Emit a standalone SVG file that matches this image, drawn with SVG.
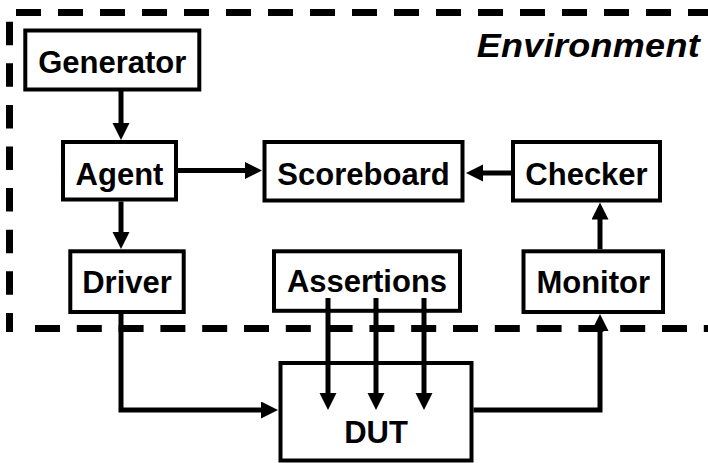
<svg xmlns="http://www.w3.org/2000/svg" width="708" height="463" viewBox="0 0 708 463">
<style>
.box{fill:#fff;stroke:#000;stroke-width:4}
.lbl{font-family:"Liberation Sans",Arial,sans-serif;font-weight:bold;font-size:31px;text-anchor:middle;fill:#000}
.env{fill:none;stroke:#000;stroke-width:7;stroke-linecap:butt}
.con{fill:none;stroke:#000;stroke-width:5;stroke-linejoin:miter}
</style>
<defs>
<marker id="ah" markerUnits="userSpaceOnUse" markerWidth="18" markerHeight="18" refX="9" refY="8.5" orient="auto">
<path d="M0,0 L17,8.5 L0,17 z" fill="#000"/>
</marker>
</defs>
<rect width="708" height="463" fill="#fff"/>
<g id="environment">
<line class="env" x1="16" y1="12.5" x2="712" y2="12.5" stroke-dasharray="25 17"/>
<line class="env" x1="9.5" y1="21.7" x2="9.5" y2="332" stroke-dasharray="23.5 18.1"/>
<line class="env" x1="35" y1="328.5" x2="712" y2="328.5" stroke-dasharray="25 16.8"/>
<line x1="711.6" y1="20" x2="711.6" y2="332" stroke="#000" stroke-width="7" stroke-dasharray="22 19" opacity="0.5"/>
<text transform="translate(700,57) scale(1,0.92)" font-family="'Liberation Sans',Arial,sans-serif" font-weight="bold" font-style="italic" font-size="36" letter-spacing="0.3" text-anchor="end">Environment</text>
</g>
<g id="generator">
<rect class="box" x="25.3" y="30.5" width="174" height="59"/>
<text class="lbl" x="112.3" y="73">Generator</text>
</g>
<g id="agent">
<rect class="box" x="63" y="142" width="113" height="57.5"/>
<text class="lbl" x="119.5" y="185">Agent</text>
</g>
<g id="scoreboard">
<rect class="box" x="264.5" y="142" width="198" height="58.5"/>
<text class="lbl" x="363.5" y="185">Scoreboard</text>
</g>
<g id="checker">
<rect class="box" x="513" y="142" width="147" height="58.5"/>
<text class="lbl" x="586.5" y="185">Checker</text>
</g>
<g id="driver">
<rect class="box" x="70.3" y="251.3" width="113.4" height="60.7"/>
<text class="lbl" x="127" y="293">Driver</text>
</g>
<g id="assertions">
<rect class="box" x="274" y="251.3" width="186" height="59.5"/>
<text class="lbl" x="367" y="292">Assertions</text>
</g>
<g id="monitor">
<rect class="box" x="523.5" y="251.3" width="139.5" height="60.7"/>
<text class="lbl" x="593.2" y="293">Monitor</text>
</g>
<g id="dut">
<rect class="box" x="280.5" y="363" width="191" height="97.5"/>
<text class="lbl" x="376" y="443">DUT</text>
</g>
<g id="connectors">
<path class="con" d="M121,91 V132" marker-end="url(#ah)"/>
<path class="con" d="M178,170.5 H254" marker-end="url(#ah)"/>
<path class="con" d="M511,173 H474" marker-end="url(#ah)"/>
<path class="con" d="M121,201.5 V241" marker-end="url(#ah)"/>
<path class="con" d="M600,249.3 V210.5" marker-end="url(#ah)"/>
<path class="con" d="M121,314 V410 H270" marker-end="url(#ah)"/>
<path class="con" d="M473.5,410 H600 V322" marker-end="url(#ah)"/>
<path class="con" d="M328,298 V402" marker-end="url(#ah)"/>
<path class="con" d="M376,298 V402" marker-end="url(#ah)"/>
<path class="con" d="M424,298 V402" marker-end="url(#ah)"/>
</g>
</svg>
